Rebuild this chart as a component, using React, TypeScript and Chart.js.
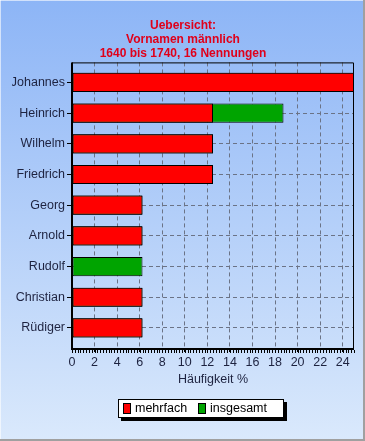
import React, { useEffect, useRef } from 'react';
import { Chart, registerables, CategoryScale } from 'chart.js';

Chart.register(...registerables);

class PaddedCategoryScale extends (CategoryScale as any) {
  static id = 'paddedCategory';
  static defaults = (CategoryScale as any).defaults;
  buildTicks() {
    const ticks = super.buildTicks();
    const pad = (this as any).options.extraPad || 0;
    (this as any)._startValue -= pad;
    (this as any)._valueRange += 2 * pad;
    return ticks;
  }
}
Chart.register(PaddedCategoryScale as any);

const categories = ['Johannes', 'Heinrich', 'Wilhelm', 'Friedrich', 'Georg', 'Arnold', 'Rudolf', 'Christian', 'Rüdiger'];
const mehrfach: (number | null)[] = [25, 12.5, 12.5, 12.5, 6.25, 6.25, null, 6.25, 6.25];
const insgesamt: number[] = [25, 18.75, 12.5, 12.5, 6.25, 6.25, 6.25, 6.25, 6.25];
const seriesNames = ['mehrfach', 'insgesamt'];
const seriesColors = ['#ff0000', '#00a400'];
const titleLines = ['Uebersicht:', 'Vornamen männlich', '1640 bis 1740, 16 Nennungen'];
const xTitle = 'Häufigkeit %';
const xTickValues = [0, 2, 4, 6, 8, 10, 12, 14, 16, 18, 20, 22, 24];
const xMin = 0;
const xMax = 25;
const xMinorStep = 0.25;

const FONT = "'Liberation Sans', Arial, sans-serif";
const TEXT = '#1e2340';

const bgPlugin = {
  id: 'bgPlugin',
  beforeDraw(chart: any) {
    const { ctx, width, height } = chart;
    ctx.save();
    const g = ctx.createLinearGradient(0, 0, 0, height);
    g.addColorStop(0, '#8db5f6');
    g.addColorStop(1, '#dae9fc');
    ctx.fillStyle = g;
    ctx.fillRect(0, 0, width, height);
    ctx.fillStyle = 'rgba(255,255,255,0.6)';
    ctx.fillRect(0, 0, 1, height);
    ctx.fillRect(0, 0, width, 1);
    ctx.fillStyle = '#a0a0a0';
    ctx.fillRect(width - 2, 0, 2, height);
    ctx.fillRect(0, height - 2, width, 2);
    ctx.restore();
  },
};

const framePlugin = {
  id: 'framePlugin',
  afterDatasetsDraw(chart: any) {
    const { ctx, chartArea } = chart;
    const { left, right, top, bottom } = chartArea;
    const xs = chart.scales.x;
    ctx.save();
    ctx.strokeStyle = '#000';
    ctx.lineWidth = 1;
    ctx.beginPath();
    ctx.moveTo(left, top + 0.5);
    ctx.lineTo(right - 0.5, top + 0.5);
    ctx.lineTo(right - 0.5, bottom);
    ctx.stroke();
    ctx.lineWidth = 2;
    ctx.beginPath();
    ctx.moveTo(left, top);
    ctx.lineTo(left, bottom + 1);
    ctx.lineTo(right, bottom + 1);
    ctx.stroke();
    ctx.lineWidth = 1;
    ctx.beginPath();
    for (let v = xMin; v <= xMax + 1e-9; v += xMinorStep) {
      const px = Math.round(xs.getPixelForValue(v)) + 0.5;
      ctx.moveTo(px, bottom + 2);
      ctx.lineTo(px, bottom + 5);
    }
    ctx.stroke();
    ctx.restore();
  },
};

const legendPlugin = {
  id: 'boxLegend',
  afterDraw(chart: any) {
    const { ctx } = chart;
    const boxL = 118, boxT = 399, boxW = 166, boxH = 19;
    ctx.save();
    ctx.fillStyle = '#000';
    ctx.fillRect(boxL + 3, boxT + 3, boxW, boxH);
    ctx.fillStyle = '#fff';
    ctx.fillRect(boxL, boxT, boxW, boxH);
    ctx.strokeStyle = '#000';
    ctx.lineWidth = 1;
    ctx.strokeRect(boxL + 0.5, boxT + 0.5, boxW - 1, boxH - 1);
    ctx.font = `12.5px ${FONT}`;
    ctx.textBaseline = 'middle';
    ctx.textAlign = 'left';
    chart.data.datasets.forEach((ds: any, i: number) => {
      const x = boxL + 5 + i * 75;
      ctx.fillStyle = ds.backgroundColor;
      ctx.fillRect(x, boxT + 4, 8, 11);
      ctx.strokeStyle = '#000';
      ctx.strokeRect(x + 0.5, boxT + 4.5, 7, 10);
      ctx.fillStyle = '#000';
      ctx.fillText(ds.label, x + 12, boxT + boxH / 2 + 0.5);
    });
    ctx.restore();
  },
};

export default function App() {
  const ref = useRef<HTMLCanvasElement | null>(null);
  useEffect(() => {
    if (!ref.current) return;
    const barBase = {
      borderColor: '#000',
      borderWidth: 1,
      borderSkipped: false,
      grouped: false,
      barPercentage: 0.625,
      categoryPercentage: 1,
    };
    const chart = new Chart(ref.current, {
      type: 'bar',
      data: {
        labels: categories,
        datasets: [
          { ...barBase, label: seriesNames[0], data: mehrfach, backgroundColor: seriesColors[0] } as any,
          { ...barBase, label: seriesNames[1], data: insgesamt, backgroundColor: seriesColors[1] } as any,
        ],
      },
      options: {
        indexAxis: 'y',
        responsive: false,
        animation: false,
        devicePixelRatio: 1,
        layout: { padding: { top: 0, right: 11, bottom: 50, left: 12 } },
        plugins: {
          legend: { display: false },
          tooltip: { enabled: false },
          title: {
            display: true,
            text: titleLines,
            color: '#e0001a',
            font: { family: FONT, size: 12, weight: 'bold', lineHeight: 1.15 },
            padding: { top: 19, bottom: 2 },
          },
        },
        scales: {
          x: {
            type: 'linear',
            min: xMin,
            max: xMax,
            afterBuildTicks: (s: any) => {
              s.ticks = xTickValues.map((v) => ({ value: v }));
            },
            afterFit: (s: any) => {
              s.height = 43;
            },
            ticks: {
              color: TEXT,
              font: { family: FONT, size: 12.5 },
              padding: 3,
              maxRotation: 0,
              autoSkip: false,
            },
            grid: {
              color: '#6b7386',
              lineWidth: 1,
              drawTicks: true,
              tickLength: 4,
              tickColor: '#000',
              tickBorderDash: [],
            } as any,
            border: { display: false, dash: [4, 3] },
            title: {
              display: true,
              text: xTitle,
              color: TEXT,
              font: { family: FONT, size: 12.5 },
              padding: { top: 4, bottom: 4 },
            },
          },
          y: {
            type: 'paddedCategory',
            extraPad: 0.153,
            afterFit: (s: any) => {
              s.width = 60;
            },
            ticks: {
              color: TEXT,
              font: { family: FONT, size: 12.5 },
              padding: 2,
            },
            grid: {
              offset: false,
              color: '#6b7386',
              lineWidth: 1,
              drawTicks: true,
              tickLength: 5,
              tickColor: '#000',
              tickBorderDash: [],
            } as any,
            border: { display: false, dash: [4, 3] },
          },
        },
      } as any,
      plugins: [bgPlugin, framePlugin, legendPlugin],
    });
    return () => chart.destroy();
  }, []);
  return (
    <div style={{ position: 'absolute', left: 0, top: 0, width: 365, height: 441 }}>
      <canvas ref={ref} width={365} height={441} style={{ display: 'block' }} />
    </div>
  );
}
